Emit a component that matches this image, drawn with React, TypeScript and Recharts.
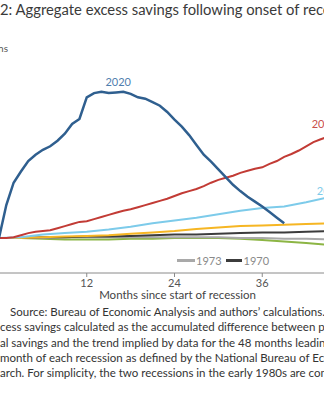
import { LineChart, Line, XAxis, YAxis, ReferenceDot } from 'recharts'

// months since start of recession
const months2020 = [0, 1, 2, 3, 4, 5, 6, 7, 8, 9, 10, 11, 12, 13, 14, 15, 16, 17, 18, 19, 20, 21, 22, 23, 24, 25, 26, 27, 28, 29, 30, 31, 32, 33, 34, 35, 36, 37, 38, 39]
const savings2020 = [0, 0.47, 0.79, 0.95, 1.1, 1.19, 1.26, 1.31, 1.39, 1.49, 1.63, 1.7, 2.01, 2.07, 2.09, 2.07, 2.08, 2.09, 2.06, 2.01, 1.99, 1.94, 1.89, 1.8, 1.69, 1.59, 1.47, 1.33, 1.19, 1.09, 0.98, 0.87, 0.76, 0.67, 0.59, 0.52, 0.45, 0.37, 0.29, 0.21]

const months2008 = [0, 1, 2, 3, 4, 5, 6, 7, 8, 9, 10, 11, 12, 13, 14, 15, 16, 17, 18, 19, 20, 21, 22, 23, 24, 25, 26, 27, 28, 29, 30, 31, 32, 33, 34, 35, 36, 37, 38, 39, 40, 41, 42, 43, 44, 45]
const savings2008 = [0, 0, 0.01, 0.04, 0.07, 0.09, 0.1, 0.11, 0.14, 0.17, 0.2, 0.23, 0.24, 0.27, 0.3, 0.33, 0.36, 0.39, 0.41, 0.44, 0.47, 0.5, 0.53, 0.56, 0.6, 0.64, 0.67, 0.7, 0.74, 0.79, 0.83, 0.86, 0.89, 0.93, 0.96, 0.99, 1.01, 1.06, 1.1, 1.16, 1.2, 1.25, 1.31, 1.37, 1.41, 1.45]

// the older recessions, read every three months
const monthsQ = [0, 3, 6, 9, 12, 15, 18, 21, 24, 27, 30, 33, 36, 39, 42, 45]
const savings2001 = [0, 0.01, 0.05, 0.07, 0.09, 0.12, 0.16, 0.21, 0.25, 0.29, 0.34, 0.39, 0.43, 0.45, 0.51, 0.58]
const savings1980 = [0, 0, 0.01, 0.02, 0.03, 0.04, 0.06, 0.08, 0.1, 0.13, 0.15, 0.17, 0.18, 0.19, 0.2, 0.21]
const savings1990 = [0, 0, -0.01, -0.02, -0.02, -0.02, -0.01, -0.01, 0, 0, 0, -0.01, -0.03, -0.05, -0.07, -0.1]
const savings1973 = [0, 0, 0, 0.01, 0.01, 0.01, 0.01, 0.01, 0.01, 0.01, 0.01, 0, 0, -0.01, -0.01, -0.02]
const savings1970 = [0, 0, 0.01, 0.01, 0.02, 0.02, 0.03, 0.04, 0.05, 0.05, 0.06, 0.07, 0.08, 0.08, 0.09, 0.1]

const xTicks = [0, 12, 24, 36, 48]

const toRows = (xs: number[], ys: number[]) => xs.map((m, i) => ({ month: m, value: ys[i] }))

const font = 'Lato, "Open Sans", sans-serif'

export default function App() {
  return (
    <div
      style={{
        position: 'absolute',
        left: 0,
        top: 0,
        width: 324,
        height: 400,
        overflow: 'hidden',
        background: '#fff',
        fontFamily: font,
        whiteSpace: 'nowrap',
      }}
    >
      <div style={{ position: 'absolute', left: 0, top: 0, fontSize: 14.8, color: '#3a3a3a' }}>
        2: Aggregate excess savings following onset of recessions
      </div>
      <div style={{ position: 'absolute', right: 316, top: 42, fontSize: 10, color: '#555' }}>Trillions</div>

      <div style={{ position: 'absolute', left: -1, top: 0 }}>
        <LineChart width={351} height={302} margin={{ top: 63, right: 0, left: 0, bottom: 0 }}>
          <XAxis
            type="number"
            dataKey="month"
            domain={[0, 48]}
            ticks={xTicks}
            height={29}
            tickSize={4}
            stroke="#8a8a8a"
            tick={{ fill: '#555', fontSize: 11, fontFamily: font }}
            label={{ value: 'Months since start of recession', position: 'insideBottom', offset: 3, dx: 3, fill: '#444', fontSize: 11.5, fontFamily: font }}
            allowDuplicatedCategory={false}
          />
          <YAxis type="number" hide domain={[-0.5, 2.5]} allowDataOverflow />
          <Line data={toRows(monthsQ, savings1990)} dataKey="value" stroke="#8cb544" strokeWidth={2} dot={false} isAnimationActive={false} />
          <Line data={toRows(monthsQ, savings1973)} dataKey="value" stroke="#a9a9a9" strokeWidth={2} dot={false} isAnimationActive={false} />
          <Line data={toRows(monthsQ, savings1970)} dataKey="value" stroke="#3c3c3c" strokeWidth={2} dot={false} isAnimationActive={false} />
          <Line data={toRows(monthsQ, savings1980)} dataKey="value" stroke="#f6b623" strokeWidth={2} dot={false} isAnimationActive={false} />
          <Line data={toRows(monthsQ, savings2001)} dataKey="value" stroke="#7dcbea" strokeWidth={2} dot={false} isAnimationActive={false} />
          <Line data={toRows(months2008, savings2008)} dataKey="value" stroke="#c23b35" strokeWidth={2} dot={false} isAnimationActive={false} />
          <Line data={toRows(months2020, savings2020)} dataKey="value" stroke="#2f5f8f" strokeWidth={2.5} dot={false} isAnimationActive={false} />
          <ReferenceDot x={16.3} y={2.23} r={0} fill="none" stroke="none" label={{ value: '2020', position: 'center', fill: '#4f7eae', fontSize: 11, fontFamily: font }} />
          <ReferenceDot x={44.5} y={1.63} r={0} fill="none" stroke="none" label={{ value: '2008', position: 'center', fill: '#c9504a', fontSize: 11, fontFamily: font }} />
          <ReferenceDot x={45.2} y={0.67} r={0} fill="none" stroke="none" label={{ value: '2001', position: 'center', fill: '#7dcbea', fontSize: 11, fontFamily: font }} />
        </LineChart>
      </div>

      <div style={{ position: 'absolute', left: 177, top: 254, display: 'flex', alignItems: 'center', fontSize: 11, color: '#8a8a8a' }}>
        <span style={{ width: 18, height: 2.5, background: '#a9a9a9', marginRight: 1 }} />
        <span style={{ marginRight: 4 }}>1973</span>
        <span style={{ width: 16, height: 2.5, background: '#3c3c3c', marginRight: 2 }} />
        <span>1970</span>
      </div>

      <div style={{ position: 'absolute', left: 0, top: 304, fontSize: 11.5, lineHeight: '15.3px', color: '#333' }}>
        <div style={{ paddingLeft: 10 }}>Source: Bureau of Economic Analysis and authors’ calculations.</div>
        <div>cess savings calculated as the accumulated difference between personal</div>
        <div>al savings and the trend implied by data for the 48 months leading up to the first</div>
        <div>month of each recession as defined by the National Bureau of Economic Research.</div>
        <div>arch. For simplicity, the two recessions in the early 1980s are combined.</div>
      </div>
    </div>
  )
}
